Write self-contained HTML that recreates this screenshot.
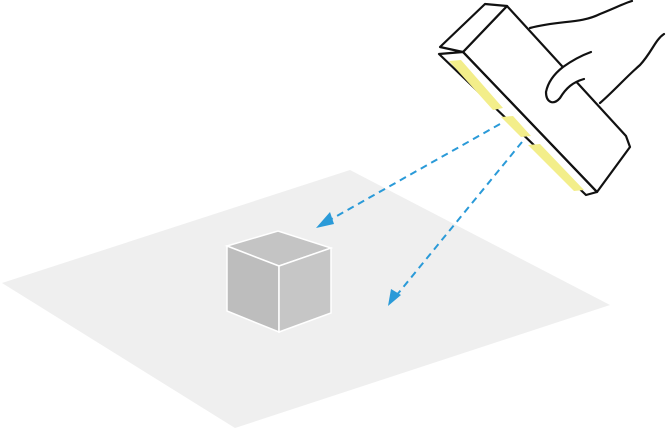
<!DOCTYPE html>
<html><head><style>body{margin:0;background:#fff}svg{display:block}</style></head><body>
<svg width="668" height="429" viewBox="0 0 668 429" xmlns="http://www.w3.org/2000/svg">
<polygon points="2,283 350,170 610,305 235,428" fill="#efefef"/>
<polygon points="227,246 278,231 331,248 279,266" fill="#c4c4c4" stroke="#fff" stroke-width="1.5"/>
<polygon points="227,246 279,266 279,332 227,311" fill="#bdbdbd" stroke="#fff" stroke-width="1.5"/>
<polygon points="279,266 331,248 331,313 279,332" fill="#c6c6c6" stroke="#fff" stroke-width="1.5"/>
<g stroke="#2a9ad8" stroke-width="2" stroke-dasharray="7,5" fill="none">
<line x1="500" y1="124" x2="328" y2="221"/>
<line x1="522" y1="142" x2="396" y2="296"/>
</g>
<polygon points="316,228 330,212 334,224" fill="#2a9ad8"/>
<polygon points="388,306 391,289 401,295" fill="#2a9ad8"/>
<g fill="none" stroke="#111" stroke-width="2.2" stroke-linejoin="round" stroke-linecap="round">
<path d="M530,28 C560,20 580,24 600,14 C615,8 625,3 632,1"/>
<path d="M600,103 C615,90 625,78 640,65 C652,52 655,40 664,34"/>
</g>
<polygon points="463,52 507,6 626,136 630,147 597,192" fill="#fff" stroke="#111" stroke-width="2.2" stroke-linejoin="round"/>
<polygon points="440,47 485,4 507,6 463,52" fill="#fff" stroke="#111" stroke-width="2.2" stroke-linejoin="round"/>
<polygon points="439,54 463,52 597,192 586,195" fill="#fff" stroke="#111" stroke-width="2.2" stroke-linejoin="round"/>
<g fill="#f3ee8a">
<polygon points="449,61 461,60 503,108 493,110"/>
<polygon points="501,117 513,116 531,136 521,137"/>
<polygon points="528,145 540,144 584,190 574,191"/>
</g>
<line x1="463" y1="52" x2="597" y2="192" stroke="#111" stroke-width="2"/>
<path d="M591,52 C580,56 570,62 563,67 C554,74 548,82 546,92 C546,102 553,106 560,98 C566,88 573,82 584,79 L592,80 C585,83 586,88 590,92" fill="#fff" stroke="none"/>
<g fill="none" stroke="#111" stroke-width="2.2" stroke-linejoin="round" stroke-linecap="round">
<path d="M591,52 C580,56 570,62 563,67 C554,74 548,82 546,92 C546,102 553,106 560,98 C566,88 573,82 584,79"/>
</g>
</svg>
</body></html>
